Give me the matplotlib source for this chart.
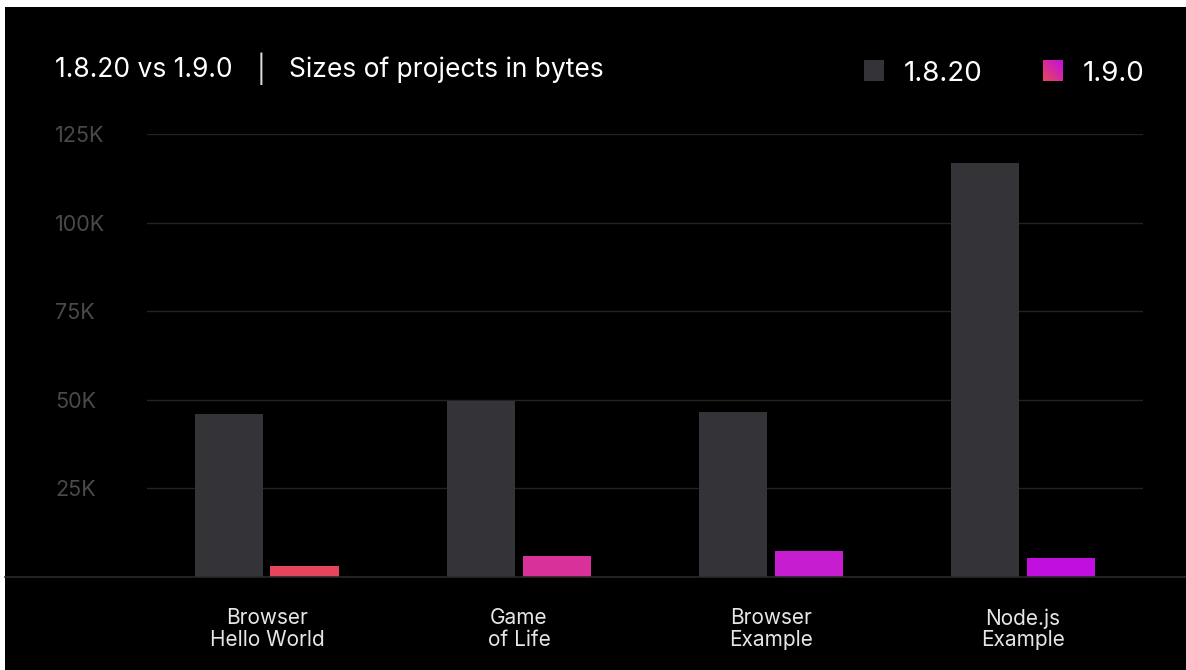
"""Kotlin/Wasm project sizes, 1.8.20 vs 1.9.0."""
import matplotlib
matplotlib.use("Agg")
import matplotlib.pyplot as plt
import numpy as np
from matplotlib.colors import LinearSegmentedColormap
from matplotlib.lines import Line2D
from matplotlib.patches import Rectangle

plt.rcParams["font.family"] = ["Inter", "DejaVu Sans"]

# --- data -------------------------------------------------------------
projects = ["Browser\nHello World", "Game\nof Life", "Browser\nExample", "Node.js\nExample"]
series_names = ["1.8.20", "1.9.0"]
sizes_1820 = [46000, 49700, 46600, 116800]
sizes_190 = [3100, 5900, 7300, 5400]
y_ticks = [25000, 50000, 75000, 100000, 125000]
y_tick_labels = ["25K", "50K", "75K", "100K", "125K"]

# --- style ------------------------------------------------------------
BG = "#000000"
DARK = "#343338"
PINK_BARS = ["#E6455C", "#D8329A", "#C71DD1", "#C10FE0"]
GRID = "#232323"
W, H = 1186, 670

fig = plt.figure(figsize=(W / 100, H / 100), dpi=100, facecolor="white")
# black card, the reference has a thin white strip on top and left
fig.add_artist(Rectangle((5 / W, 0), 1 - 5 / W, 1 - 7 / H, transform=fig.transFigure,
                         facecolor=BG, edgecolor="none", zorder=-10))

ax = fig.add_axes([147 / W, 1 - 577 / H, 996 / W, (577 - 134) / H])
ax.set_facecolor(BG)
ax.patch.set_alpha(0)

x = np.arange(len(projects))
bw = 0.27
ax.bar(x - 0.151, sizes_1820, width=bw, color=DARK, zorder=3)
ax.bar(x + 0.149, sizes_190, width=bw, color=PINK_BARS, zorder=3)

ax.set_xlim(-0.476, len(projects) - 0.524)
ax.set_ylim(0, 125000)
ax.set_yticks(y_ticks)
ax.set_yticklabels(y_tick_labels, ha="left", color="#4a4a4a", fontsize=15.5)
ax.tick_params(axis="y", length=0, pad=66)
ax.set_xticks(x)
ax.set_xticklabels(projects, color="#e6e6e6", fontsize=15, linespacing=1.1)
ax.tick_params(axis="x", length=0, pad=22.5)
ax.grid(axis="y", color=GRID, linewidth=1, zorder=0)
for s in ax.spines.values():
    s.set_visible(False)

# baseline across the whole card
fig.add_artist(Line2D([5 / W, 1], [1 - 577 / H] * 2, transform=fig.transFigure,
                      color="#2a2a2a", linewidth=1.2, zorder=5))

# title
fig.text(55 / W, 1 - 77 / H, "1.8.20 vs 1.9.0", color="white", fontsize=19, va="baseline")
fig.text(257 / W, 1 - 79 / H, "|", color="#dddddd", fontsize=19, va="baseline")
fig.text(289 / W, 1 - 77 / H, "Sizes of projects in bytes", color="white", fontsize=19,
         va="baseline")

# legend
fig.add_artist(Rectangle((864 / W, 1 - 81 / H), 20 / W, 21 / H, transform=fig.transFigure,
                         facecolor=DARK, edgecolor="none"))
fig.text(904 / W, 1 - 81 / H, series_names[0], color="white", fontsize=20, va="baseline")
grad_ax = fig.add_axes([1043 / W, 1 - 81 / H, 20 / W, 21 / H])
cmap = LinearSegmentedColormap.from_list("kt", ["#E8475A", "#C10FE0"])
gx, gy = np.meshgrid(np.linspace(0, 1, 32), np.linspace(0, 1, 32))
grad_ax.imshow((gx + gy) / 2, cmap=cmap, origin="lower", aspect="auto")
grad_ax.axis("off")
fig.text(1083 / W, 1 - 81 / H, series_names[1], color="white", fontsize=20, va="baseline")

fig.savefig("out.png", dpi=100, facecolor=fig.get_facecolor())
